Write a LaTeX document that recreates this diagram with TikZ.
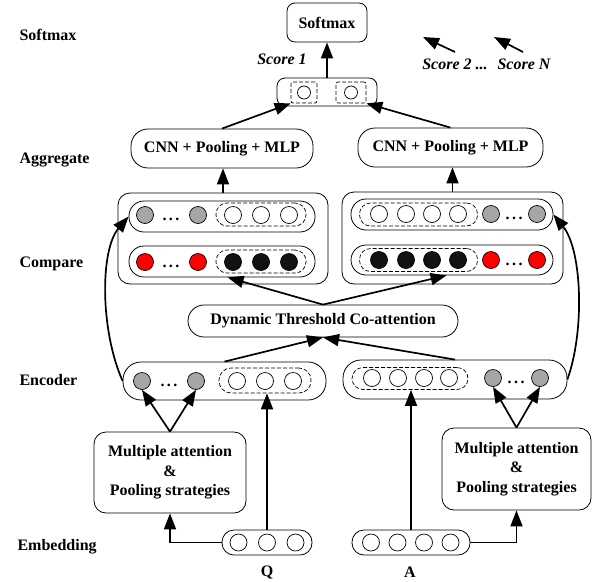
\documentclass[tikz,border=0pt]{standalone}
\usepackage{fontspec}
\setmainfont{Liberation Serif}
\usetikzlibrary{arrows.meta,calc}
\begin{document}
\begin{tikzpicture}[x=1pt,y=-1pt,
  every node/.style={font=\fontsize{16}{19.5}\selectfont\bfseries},
  box/.style={draw, line width=0.8pt, inner sep=0pt, align=center},
  lbl/.style={anchor=west},
  circ/.style={draw, circle, minimum size=17pt, inner sep=0pt, line width=0.7pt},
  gcirc/.style={circ, fill=black!35},
  rcirc/.style={circ, fill=red},
  bcirc/.style={circ, fill=black!93},
  scirc/.style={circ, minimum size=13pt},
  dbox/.style={draw, dash pattern=on 4pt off 2pt, line width=0.7pt, inner sep=0pt},
  dots/.style={anchor=base, inner sep=0pt},
  arr/.style={-{Triangle[length=16pt,width=12pt]}, line width=1.7pt},
  ital/.style={font=\fontsize{16}{18}\selectfont\bfseries\itshape},
]
\useasboundingbox (0,0) rectangle (593,581);
\newcommand{\mydots}{.\hspace{2.5pt}.\hspace{2.5pt}.}

% left labels
\node[lbl] (lsoft) at (16,35) {Softmax};
\node[lbl] (lagg) at (16,160) {Aggregate};
\node[lbl] (lcmp) at (16,264) {Compare};
\node[lbl] (lenc) at (16,380) {Encoder};
\node[lbl] (lemb) at (14,547) {Embedding};

% softmax and scores
\node[box, rounded corners=8pt, minimum width=80pt, minimum height=39pt] (softmax) at (327,22.5) {Softmax};
\node[box, rounded corners=8pt, minimum width=100pt, minimum height=28pt] (score) at (327,92) {};
\node[dbox, rounded corners=2pt, minimum width=26pt, minimum height=21pt] (sq1) at (304,92.5) {};
\node[dbox, rounded corners=2pt, minimum width=30pt, minimum height=21pt] (sq2) at (351,92.5) {};
\node[scirc] (sc1) at (304,92.5) {};
\node[scirc] (sc2) at (351,92.5) {};
\node[ital] (s1) at (282,59) {Score 1};
\node[ital] (s2) at (455,64) {Score 2 ...};
\node[ital] (sN) at (524,64) {Score N};
\coordinate (s2a) at (455,52); \coordinate (s2b) at (423,37);
\coordinate (sNa) at (523,52); \coordinate (sNb) at (494,37);

% aggregate
\node[box, rounded corners=17pt, minimum width=182pt, minimum height=39pt] (cnnL) at (222,148.5) {CNN + Pooling + MLP};
\node[box, rounded corners=17pt, minimum width=185pt, minimum height=39pt] (cnnR) at (450.5,147.5) {CNN + Pooling + MLP};

% compare left
\node[box, rounded corners=12pt, minimum width=210pt, minimum height=91pt] (cmpL) at (223,238.5) {};
\node[box, rounded corners=15pt, minimum width=186pt, minimum height=31pt] (cmpL1) at (222,216.5) {};
\node[box, rounded corners=15pt, minimum width=186pt, minimum height=31pt] (cmpL2) at (222,261.5) {};
\node[dbox, rounded corners=11pt, minimum width=90pt, minimum height=23pt] (dL1) at (261,214.5) {};
\node[dbox, rounded corners=11pt, minimum width=90pt, minimum height=23pt] (dL2) at (261,261.5) {};
\node[gcirc] (gL1) at (145,215) {};
\node[dots] (dtL1) at (171,220) {\mydots};
\node[gcirc] (gL2) at (198,215) {};
\node[circ] (wL1) at (233,215) {};
\node[circ] (wL2) at (261,215) {};
\node[circ] (wL3) at (289,215) {};
\node[rcirc] (rL1) at (145,262) {};
\node[dots] (dtL2) at (171,267) {\mydots};
\node[rcirc] (rL2) at (198,262) {};
\node[bcirc] (bL1) at (233,262) {};
\node[bcirc] (bL2) at (261,262) {};
\node[bcirc] (bL3) at (289,262) {};

% compare right
\node[box, rounded corners=12pt, minimum width=221pt, minimum height=92pt] (cmpR) at (452.5,238) {};
\node[box, rounded corners=15pt, minimum width=202pt, minimum height=31pt] (cmpR1) at (452,214.5) {};
\node[box, rounded corners=15pt, minimum width=202pt, minimum height=30pt] (cmpR2) at (452,260) {};
\node[dbox, rounded corners=11pt, minimum width=118pt, minimum height=23pt] (dR1) at (418.5,214.5) {};
\node[dbox, rounded corners=11pt, minimum width=118pt, minimum height=23pt] (dR2) at (418.5,260) {};
\node[circ] (wR1) at (379,214) {};
\node[circ] (wR2) at (406,214) {};
\node[circ] (wR3) at (432,214) {};
\node[circ] (wR4) at (458,214) {};
\node[gcirc] (gR1) at (491,214) {};
\node[dots] (dtR1) at (514,219) {\mydots};
\node[gcirc] (gR2) at (537,214) {};
\node[bcirc] (bR1) at (379,260) {};
\node[bcirc] (bR2) at (406,260) {};
\node[bcirc] (bR3) at (432,260) {};
\node[bcirc] (bR4) at (458,260) {};
\node[rcirc] (rR1) at (491,260) {};
\node[dots] (dtR2) at (514,265) {\mydots};
\node[rcirc] (rR2) at (537,260) {};

% co-attention
\node[box, rounded corners=16pt, minimum width=270pt, minimum height=32pt] (dtc) at (323,321) {Dynamic Threshold Co-attention};

% encoder left
\node[box, rounded corners=18pt, minimum width=203pt, minimum height=38pt] (encL) at (224.5,381) {};
\node[dbox, rounded corners=12pt, minimum width=92pt, minimum height=25pt] (dEncL) at (265,380.5) {};
\node[gcirc] (geL1) at (142,381) {};
\node[dots] (dteL) at (169,386) {\mydots};
\node[gcirc] (geL2) at (196,381) {};
\node[circ] (weL1) at (237,381) {};
\node[circ] (weL2) at (265,381) {};
\node[circ] (weL3) at (293,381) {};

% encoder right
\node[box, rounded corners=18pt, minimum width=224pt, minimum height=39pt] (encR) at (455,379.5) {};
\node[dbox, rounded corners=11pt, minimum width=116pt, minimum height=22pt] (dEncR) at (410,378.5) {};
\node[circ] (weR1) at (372,378) {};
\node[circ] (weR2) at (398,378) {};
\node[circ] (weR3) at (424,378) {};
\node[circ] (weR4) at (449,378) {};
\node[gcirc] (geR1) at (493,378) {};
\node[dots] (dteR) at (516,383) {\mydots};
\node[gcirc] (geR2) at (540,378) {};

% multiple attention
\node[box, rounded corners=12pt, minimum width=152pt, minimum height=81pt] (maL) at (170,472.5) {Multiple attention\\\&\\Pooling strategies};
\node[box, rounded corners=12pt, minimum width=149pt, minimum height=82pt] (maR) at (516.5,469) {Multiple attention\\\&\\Pooling strategies};

% embedding
\node[box, rounded corners=12pt, minimum width=90pt, minimum height=25pt] (qbox) at (267,542.5) {};
\node[circ] (q1) at (238.5,542.5) {};
\node[circ] (q2) at (267,542.5) {};
\node[circ] (q3) at (295.5,542.5) {};
\node[box, rounded corners=12pt, minimum width=118pt, minimum height=25pt] (abox) at (411,542.5) {};
\node[circ] (a1) at (371,542.5) {};
\node[circ] (a2) at (397.5,542.5) {};
\node[circ] (a3) at (424,542.5) {};
\node[circ] (a4) at (450.5,542.5) {};
\node (ql) at (267,572) {Q};
\node (al) at (410,572) {A};

% connectors
\draw[arr] (score.north) -- (softmax.south);
\draw[arr] (cnnL.north) -- (sq1.south west);
\draw[arr] (cnnR.north) -- (sq2.south east);
\draw[arr] (s2a) -- (s2b);
\draw[arr] (sNa) -- (sNb);
\draw[arr] (cmpL.north) -- (cmpL.north |- cnnL.south);
\draw[arr] (cmpR.north) -- (cmpR.north |- cnnR.south);
\draw[arr] (dtc.north) -- ($(cmpL2.south west)+(99,0)$);
\draw[arr] (dtc.north) -- ($(cmpR2.south west)+(96,0)$);
\draw[arr] (encL.north) -- (dtc.south);
\draw[arr] (encR.north) -- (dtc.south);
\draw[arr] (encL.west) .. controls (100,330) and (100,250) .. (cmpL1.west);
\draw[arr] (encR.east) .. controls (585,330) and (582,250) .. (cmpR1.east);
\draw[arr] (maL.north) -- (geL1.south);
\draw[arr] (maL.north) -- (geL2.south);
\draw[arr] (maR.north) -- (geR1.south);
\draw[arr] (maR.north) -- (geR2.south);
\draw[arr] (qbox.west) -| (maL.south);
\draw[arr] (abox.east) -| (maR.south);
\draw[arr] (qbox.north) -- (qbox.north |- dEncL.south);
\draw[arr] (abox.north) -- (abox.north |- dEncR.south);
\end{tikzpicture}
\end{document}
